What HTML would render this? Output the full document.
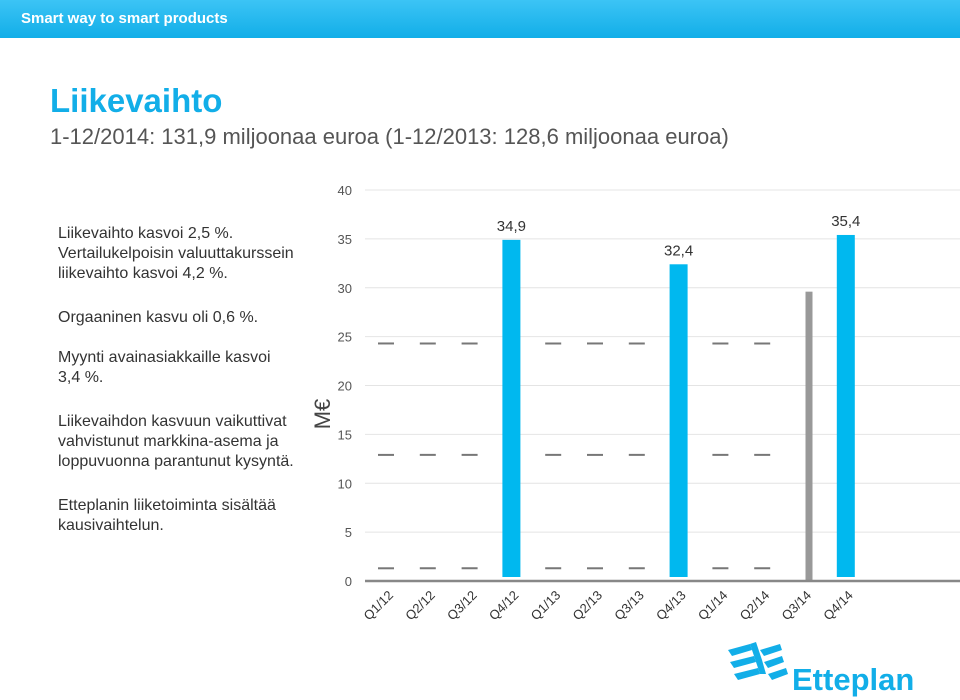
<!DOCTYPE html>
<html><head><meta charset="utf-8"><style>
body{margin:0;width:960px;height:700px;background:#fff;font-family:"Liberation Sans",sans-serif;overflow:hidden;position:relative}
.hdr{position:absolute;left:0;top:0;width:960px;height:38px;background:linear-gradient(#3cc4f5,#12aee8);}
.hdr span{position:absolute;left:21px;top:10px;color:#fff;font-weight:bold;font-size:15px}
.title{position:absolute;left:50px;top:82px;font-size:33px;font-weight:bold;color:#12aee8}
.sub{position:absolute;left:50px;top:124px;font-size:22px;color:#555}
.txt{position:absolute;left:58px;font-size:16px;color:#333;line-height:20px}
</style></head><body>
<div class="hdr"><span>Smart way to smart products</span></div>
<div class="title">Liikevaihto</div>
<div class="sub">1-12/2014: 131,9 miljoonaa euroa (1-12/2013: 128,6 miljoonaa euroa)</div>
<div class="txt" style="top:224px">Liikevaihto kasvoi 2,5 %.<br>Vertailukelpoisin valuuttakurssein<br>liikevaihto kasvoi 4,2 %.</div>
<div class="txt" style="top:308px">Orgaaninen kasvu oli 0,6 %.</div>
<div class="txt" style="top:348px">Myynti avainasiakkaille kasvoi<br>3,4 %.</div>
<div class="txt" style="top:412px">Liikevaihdon kasvuun vaikuttivat<br>vahvistunut markkina-asema ja<br>loppuvuonna parantunut kysyntä.</div>
<div class="txt" style="top:496px">Etteplanin liiketoiminta sisältää<br>kausivaihtelun.</div>
<svg id="chart" width="960" height="700" style="position:absolute;left:0;top:0"></svg>
<svg width="230" height="60" style="position:absolute;left:720px;top:640px">
<g fill="#12aee8"><polygon points="8,10 30,4 32,10 12,16"/><polygon points="10,22 34,16 36,22 14,28"/><polygon points="14,34 38,28 40,34 18,40"/><polygon points="30,4 36,22 40,34 46,34 42,20 36,2"/><polygon points="40,10 60,4 62,10 44,16"/><polygon points="44,22 62,16 64,22 48,28"/><polygon points="48,34 66,28 68,34 52,40"/></g>
<text x="72" y="50" font-size="31" font-weight="bold" fill="#12aee8" font-family="Liberation Sans,sans-serif">Etteplan</text></svg>
<script>
const categories=["Q1/12","Q2/12","Q3/12","Q4/12","Q1/13","Q2/13","Q3/13","Q4/13","Q1/14","Q2/14","Q3/14","Q4/14"];
const barValues=[null,null,null,34.9,null,null,null,32.4,null,null,29.6,35.4];
const barLabels=["","","","34,9","","","","32,4","","","","35,4"];
const dashLevels=[24.3,12.9,1.3];
const dashShown=[1,1,1,0,1,1,1,0,1,1,0,0];
const yTicks=[0,5,10,15,20,25,30,35,40];
const NS="http://www.w3.org/2000/svg",svg=document.getElementById('chart');
const y=v=>581-v*9.775, x=i=>386+i*41.8;
function el(t,a,p){const e=document.createElementNS(NS,t);for(const k in a)e.setAttribute(k,a[k]);(p||svg).appendChild(e);return e;}
yTicks.forEach(t=>{
 if(t>0){const g=el('line',{x1:365,x2:960,y1:y(t),y2:y(t),stroke:'#e4e4e4','stroke-width':1});
 
 }
 const l=el('text',{x:352,y:y(t)+5,'text-anchor':'end','font-size':13,fill:'#555'});l.textContent=t;
 
 
});
categories.forEach((c,i)=>{
 if(dashShown[i])dashLevels.forEach((d,j)=>{const e=el('line',{x1:x(i)-8,x2:x(i)+8,y1:y(d),y2:y(d),stroke:'#777','stroke-width':2});
 
 });
 const v=barValues[i];
 if(v!=null){
  const gray=(i==10);const w=gray?7:18;const cx=gray?x(i)+5:x(i);
  const b=el('rect',{x:cx-w/2,y:y(v),width:w,height:(gray?581:577)-y(v),fill:gray?'#999':'#00b8ef'});
  
  
  if(barLabels[i]){const t=el('text',{x:cx,y:y(v)-9,'text-anchor':'middle','font-size':15,fill:'#333'});t.textContent=barLabels[i];
  
  }
 }
 const t=el('text',{x:0,y:0,'text-anchor':'end','font-size':13,fill:'#333',transform:`translate(${x(i)+8},${596}) rotate(-45)`});t.textContent=c;
 
 
});
const ax=el('line',{x1:365,x2:960,y1:581,y2:581,stroke:'#888','stroke-width':2.5});


const yt=el('text',{x:0,y:0,'text-anchor':'middle','font-size':22,fill:'#444',transform:'translate(330,414) rotate(-90)'});yt.textContent="M€";


</script>
</body></html>
